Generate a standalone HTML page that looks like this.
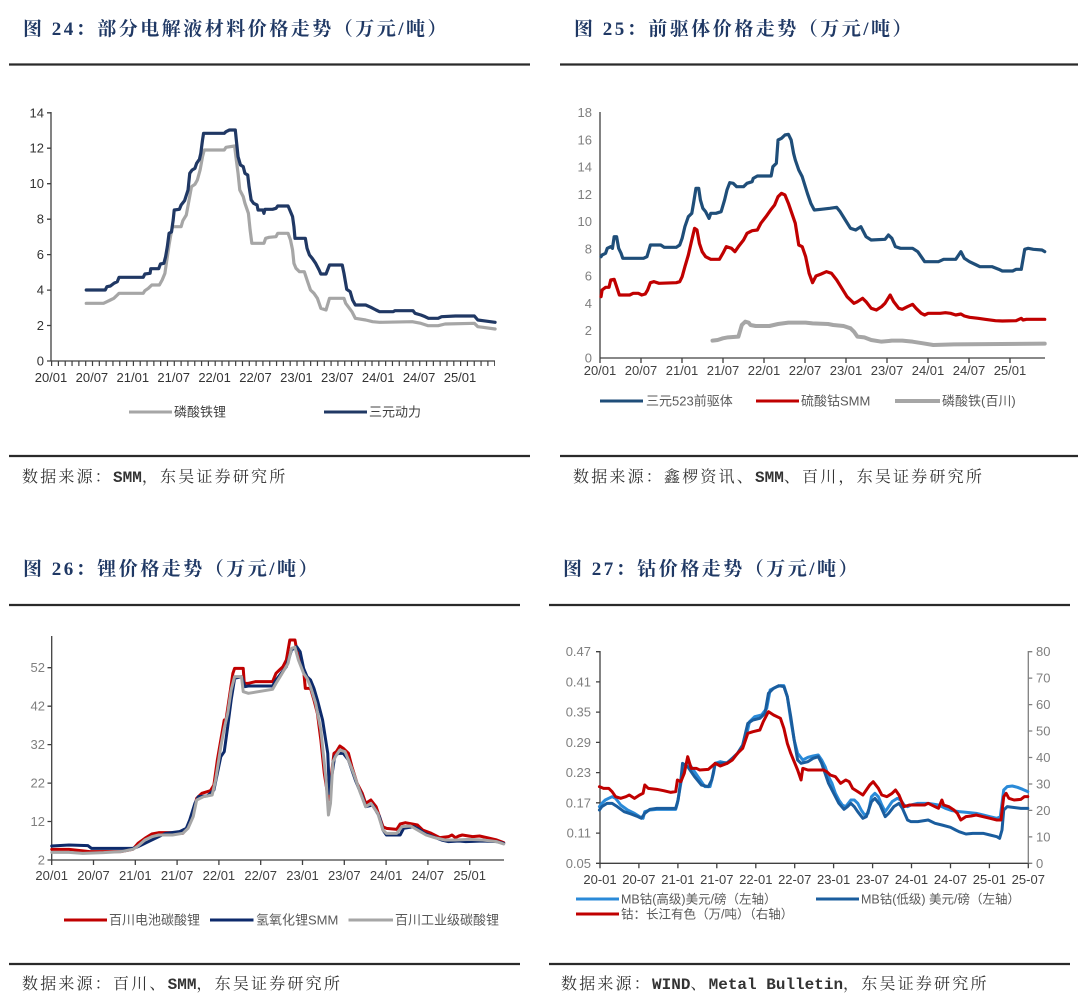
<!DOCTYPE html>
<html><head><meta charset="utf-8"><style>
html,body{margin:0;padding:0;background:#fff;}
svg{display:block;}
.t{font-family:"Liberation Serif","Noto Serif CJK SC",serif;font-weight:bold;font-size:19px;letter-spacing:2.5px;fill:#1f3864;}
.s{font-family:"Liberation Mono","Noto Serif CJK SC",serif;font-size:16px;letter-spacing:2.2px;fill:#333;}
.s tspan.l{letter-spacing:0;font-weight:bold;}
.ax{font-family:"Liberation Sans",sans-serif;font-size:13px;fill:#404040;}
.ay{font-family:"Liberation Sans",sans-serif;font-size:13px;fill:#7f7f7f;}
.lg{font-family:"Liberation Sans","Noto Sans CJK SC",sans-serif;font-size:13px;fill:#595959;}
.d{fill:none;stroke-linejoin:round;stroke-linecap:round;vector-effect:non-scaling-stroke;}
</style></head><body>
<svg width="1080" height="1007" viewBox="0 0 1080 1007" xmlns="http://www.w3.org/2000/svg">
<rect width="1080" height="1007" fill="#fff"/>

<!-- ===== Titles & rules ===== -->
<text class="t" x="23" y="35">图 24：部分电解液材料价格走势（万元/吨）</text>
<text class="t" x="574" y="35">图 25：前驱体价格走势（万元/吨）</text>
<text class="t" x="23" y="575">图 26：锂价格走势（万元/吨）</text>
<text class="t" x="563" y="575">图 27：钴价格走势（万元/吨）</text>

<g stroke="#2a2a2a" stroke-width="2.2">
<line x1="9" y1="64.5" x2="530" y2="64.5"/>
<line x1="560" y1="64.5" x2="1078" y2="64.5"/>
<line x1="9" y1="456" x2="530" y2="456"/>
<line x1="560" y1="456" x2="1078" y2="456"/>
<line x1="9" y1="605" x2="520" y2="605"/>
<line x1="549" y1="605" x2="1070" y2="605"/>
<line x1="9" y1="964" x2="520" y2="964"/>
<line x1="549" y1="964" x2="1070" y2="964"/>
</g>

<text class="s" x="22" y="482">数据来源：<tspan class="l">SMM</tspan>，东吴证券研究所</text>
<text class="s" x="573" y="482">数据来源：鑫椤资讯、<tspan class="l">SMM</tspan>、百川，东吴证券研究所</text>
<text class="s" x="22" y="989">数据来源：百川、<tspan class="l">SMM</tspan>，东吴证券研究所</text>
<text class="s" x="561" y="989">数据来源：<tspan class="l">WIND</tspan>、<tspan class="l">Metal Bulletin</tspan>，东吴证券研究所</text>

<!-- ===== Chart 24 ===== -->
<g stroke="#404040" stroke-width="1.3">
<line x1="51" y1="112" x2="51" y2="361"/>
<line x1="51" y1="361" x2="495" y2="361"/>
<path d="M47 361H51M47 325.5H51M47 290.1H51M47 254.6H51M47 219.2H51M47 183.7H51M47 148.2H51M47 112.8H51"/>
</g>
<line x1="51" y1="363.5" x2="495" y2="363.5" stroke="#404040" stroke-width="5" stroke-dasharray="1.2 5.617"/>
<g class="ax" text-anchor="end" style="fill:#333">
<text x="44" y="365.5">0</text><text x="44" y="330">2</text><text x="44" y="294.6">4</text><text x="44" y="259.1">6</text>
<text x="44" y="223.7">8</text><text x="44" y="188.2">10</text><text x="44" y="152.7">12</text><text x="44" y="117.3">14</text>
</g>
<g class="ax" text-anchor="middle" style="fill:#333">
<text x="51" y="382">20/01</text><text x="91.9" y="382">20/07</text><text x="132.8" y="382">21/01</text><text x="173.7" y="382">21/07</text>
<text x="214.6" y="382">22/01</text><text x="255.5" y="382">22/07</text><text x="296.4" y="382">23/01</text><text x="337.3" y="382">23/07</text>
<text x="378.2" y="382">24/01</text><text x="419.1" y="382">24/07</text><text x="460" y="382">25/01</text>
</g>
<g transform="scale(0.345,0.33333)">
<polyline class="d" stroke="#a6a6a6" stroke-width="3.2" points="250,910 300,910 310,905 320,900 330,895 340,885 345,880 415,880 420,872 430,865 440,855 462,855 470,840 478,820 485,770 490,735 495,705 500,680 525,680 530,662 540,645 548,600 555,560 565,553 572,540 580,510 587,470 592,450 650,450 655,442 680,438 685,480 690,520 695,570 705,590 710,610 720,640 725,690 730,730 765,730 770,715 780,712 800,710 805,700 835,700 842,720 848,750 852,790 858,805 868,815 882,815 890,840 900,870 910,880 920,895 930,925 945,930 955,895 997,895 1002,910 1020,935 1030,955 1060,960 1080,965 1100,967 1195,965 1220,970 1240,977 1270,977 1290,972 1375,970 1385,980 1400,982 1435,987"/>
<polyline class="d" stroke="#203864" stroke-width="3.2" points="250,870 305,870 310,860 320,858 330,850 340,845 345,832 415,832 420,822 435,820 437,806 460,806 465,792 475,790 480,770 485,740 490,700 497,696 502,660 505,630 520,628 525,615 535,602 545,570 550,520 557,510 565,505 570,490 578,478 582,460 587,420 590,400 650,400 655,395 665,390 682,390 686,430 690,470 697,495 705,500 710,520 718,525 722,560 728,600 735,610 745,615 748,630 762,630 765,640 768,628 790,628 800,625 805,618 835,618 840,630 848,650 852,680 855,715 885,715 890,745 897,765 905,775 915,790 925,810 930,822 945,822 955,795 992,795 997,820 1002,850 1005,868 1015,875 1022,900 1030,915 1060,915 1075,922 1090,930 1100,935 1140,935 1145,932 1197,932 1203,940 1220,945 1232,950 1242,955 1270,955 1280,950 1320,948 1375,948 1385,960 1400,962 1435,967"/>
</g>
<line x1="129" y1="412" x2="172" y2="412" stroke="#a6a6a6" stroke-width="3"/>
<text class="lg" x="174" y="416.5" style="fill:#404040">磷酸铁锂</text>
<line x1="324" y1="412" x2="367" y2="412" stroke="#203864" stroke-width="3"/>
<text class="lg" x="369" y="416.5" style="fill:#404040">三元动力</text>

<!-- ===== Chart 25 ===== -->
<g stroke="#404040" stroke-width="1.3">
<line x1="600" y1="112" x2="600" y2="358"/>
<line x1="600" y1="358" x2="1045" y2="358"/>
<path d="M600 358v5M641 358v5M682 358v5M723 358v5M764 358v5M805 358v5M846 358v5M887 358v5M928 358v5M969 358v5M1010 358v5"/>
</g>
<g class="ay" text-anchor="end">
<text x="592" y="362.5">0</text><text x="592" y="335.2">2</text><text x="592" y="308">4</text><text x="592" y="280.7">6</text>
<text x="592" y="253.5">8</text><text x="592" y="226.2">10</text><text x="592" y="198.9">12</text><text x="592" y="171.7">14</text>
<text x="592" y="144.4">16</text><text x="592" y="117.2">18</text>
</g>
<g class="ax" text-anchor="middle">
<text x="600" y="375">20/01</text><text x="641" y="375">20/07</text><text x="682" y="375">21/01</text><text x="723" y="375">21/07</text>
<text x="764" y="375">22/01</text><text x="805" y="375">22/07</text><text x="846" y="375">23/01</text><text x="887" y="375">23/07</text>
<text x="928" y="375">24/01</text><text x="969" y="375">24/07</text><text x="1010" y="375">25/01</text>
</g>
<g transform="translate(540,0) scale(0.345,0.33333)">
<polyline class="d" stroke="#a6a6a6" stroke-width="4" points="500,1022 515,1020 530,1015 545,1012 575,1010 585,975 595,965 605,968 610,975 625,978 665,978 690,972 720,968 770,968 790,970 835,972 850,975 880,978 900,985 910,995 920,1010 940,1012 960,1020 990,1025 1020,1022 1050,1022 1080,1025 1110,1030 1140,1035 1200,1033 1463,1031"/>
<polyline class="d" stroke="#c00000" stroke-width="3.2" points="177,890 180,870 190,862 200,862 205,840 215,838 222,860 230,885 260,885 270,880 285,880 295,885 305,882 312,870 320,848 330,845 345,850 395,848 405,845 412,830 420,800 430,765 440,720 448,685 455,690 462,730 470,755 480,770 495,778 520,778 530,760 540,740 555,745 565,755 575,740 590,720 600,700 615,692 630,690 640,670 655,650 670,628 680,615 690,590 700,580 710,585 720,610 730,640 740,670 750,735 760,740 770,770 780,820 790,848 800,828 815,822 830,815 845,820 860,840 875,865 890,890 910,910 920,905 935,895 945,905 960,925 975,930 990,920 1000,910 1015,885 1025,905 1040,925 1050,928 1065,920 1080,913 1090,925 1105,940 1115,945 1125,940 1160,940 1175,938 1190,940 1205,945 1220,942 1230,948 1245,952 1270,955 1290,958 1320,962 1340,963 1380,962 1395,955 1400,960 1410,958 1463,958"/>
<polyline class="d" stroke="#1f4e79" stroke-width="3.2" points="177,770 180,765 190,760 195,745 205,740 210,745 215,710 222,710 228,745 235,760 240,775 300,775 310,770 320,735 350,735 360,742 395,742 405,735 412,715 420,680 430,650 440,640 445,610 452,565 460,565 465,600 472,625 480,635 490,655 495,640 510,640 525,635 535,600 542,570 550,548 560,550 570,560 590,560 600,550 615,545 618,535 630,528 670,528 675,500 685,490 690,420 700,415 710,405 720,403 728,420 735,460 740,480 750,510 760,530 775,580 785,610 795,630 815,628 840,625 860,622 870,635 885,660 900,685 915,690 930,680 945,710 960,720 1000,718 1010,705 1020,715 1030,740 1045,745 1080,745 1095,755 1105,770 1115,785 1155,785 1170,778 1205,778 1220,755 1230,775 1245,785 1265,795 1275,800 1310,800 1330,808 1340,813 1370,813 1380,808 1395,808 1405,748 1415,745 1430,748 1455,750 1463,755"/>
</g>
<line x1="600" y1="401" x2="643" y2="401" stroke="#1f4e79" stroke-width="3"/>
<text class="lg" x="646" y="405.5">三元523前驱体</text>
<line x1="756" y1="401" x2="799" y2="401" stroke="#c00000" stroke-width="3"/>
<text class="lg" x="801" y="405.5">硫酸钴SMM</text>
<line x1="895" y1="401" x2="940" y2="401" stroke="#a6a6a6" stroke-width="4"/>
<text class="lg" x="942" y="405.5">磷酸铁(百川)</text>

<!-- ===== Chart 26 ===== -->
<g stroke="#404040" stroke-width="1.3">
<line x1="51.7" y1="636" x2="51.7" y2="860"/>
<line x1="51.7" y1="860" x2="504" y2="860"/>
<path d="M47.5 860H51.7M47.5 821.5H51.7M47.5 783.1H51.7M47.5 744.6H51.7M47.5 706.2H51.7M47.5 667.7H51.7"/>
<path d="M51.7 860v5M93.5 860v5M135.3 860v5M177.1 860v5M218.9 860v5M260.7 860v5M302.5 860v5M344.3 860v5M386.1 860v5M427.9 860v5M469.7 860v5"/>
</g>
<g class="ay" text-anchor="end">
<text x="45" y="864.5">2</text><text x="45" y="826">12</text><text x="45" y="787.6">22</text><text x="45" y="749.1">32</text>
<text x="45" y="710.7">42</text><text x="45" y="672.2">52</text>
</g>
<g class="ax" text-anchor="middle">
<text x="51.7" y="880">20/01</text><text x="93.5" y="880">20/07</text><text x="135.3" y="880">21/01</text><text x="177.1" y="880">21/07</text>
<text x="218.9" y="880">22/01</text><text x="260.7" y="880">22/07</text><text x="302.5" y="880">23/01</text><text x="344.3" y="880">23/07</text>
<text x="386.1" y="880">24/01</text><text x="427.9" y="880">24/07</text><text x="469.7" y="880">25/01</text>
</g>
<g transform="translate(0,540) scale(0.345,0.33333)">
<polyline class="d" stroke="#c00000" stroke-width="3" points="150,928 200,928 260,935 300,935 350,935 385,928 400,910 420,895 440,882 460,878 490,878 530,880 545,860 560,820 570,775 585,760 610,752 620,735 630,660 640,600 650,540 655,540 665,470 675,400 680,385 705,385 708,430 720,430 740,425 790,425 800,400 810,390 820,380 830,360 840,300 855,300 860,330 870,370 880,390 885,445 900,445 910,480 920,520 930,600 940,700 952,780 960,710 968,640 975,635 985,618 995,625 1010,640 1020,680 1035,730 1050,760 1060,790 1075,780 1090,800 1100,830 1110,860 1120,865 1150,868 1160,852 1175,848 1195,852 1210,855 1225,870 1250,880 1275,893 1300,890 1310,885 1320,893 1330,888 1340,885 1370,890 1390,888 1420,895 1440,900 1460,908"/>
<polyline class="d" stroke="#0d2a6b" stroke-width="3" points="150,918 200,915 255,917 265,925 300,925 385,925 400,920 410,915 430,905 460,890 480,880 520,875 540,865 550,840 565,790 575,770 600,768 610,760 620,750 630,700 640,650 650,635 660,560 670,480 680,415 700,410 710,440 720,438 790,438 800,420 815,400 830,380 845,330 860,320 870,335 880,385 890,410 900,420 910,445 920,480 935,540 950,640 955,760 960,720 970,650 980,640 995,640 1010,660 1030,720 1050,770 1060,800 1080,795 1100,830 1110,870 1120,885 1160,885 1170,865 1200,860 1215,868 1230,880 1250,888 1280,900 1300,905 1330,903 1350,905 1400,903 1440,905 1460,910"/>
<polyline class="d" stroke="#a6a6a6" stroke-width="3" points="150,937 200,937 240,940 300,938 350,935 385,928 400,918 420,900 440,890 460,885 500,885 530,880 545,865 560,830 570,780 590,770 615,765 625,720 640,620 650,565 660,520 670,450 680,410 700,410 705,455 720,460 790,448 800,430 815,405 835,370 845,325 855,322 865,360 880,400 890,415 900,440 915,490 930,570 945,720 952,825 958,790 965,665 975,645 985,630 1000,635 1010,660 1025,700 1045,760 1060,800 1075,790 1095,820 1110,870 1120,880 1150,880 1165,860 1190,858 1210,870 1235,885 1260,893 1290,900 1320,900 1360,898 1400,900 1440,905 1460,912"/>
</g>
<line x1="64" y1="920" x2="107" y2="920" stroke="#c00000" stroke-width="3"/>
<text class="lg" x="109" y="924.5">百川电池碳酸锂</text>
<line x1="210" y1="920" x2="253.5" y2="920" stroke="#0d2a6b" stroke-width="3"/>
<text class="lg" x="256" y="924.5">氢氧化锂SMM</text>
<line x1="348.5" y1="920" x2="393" y2="920" stroke="#a6a6a6" stroke-width="3"/>
<text class="lg" x="395" y="924.5">百川工业级碳酸锂</text>

<!-- ===== Chart 27 ===== -->
<g stroke="#404040" stroke-width="1.3">
<line x1="600" y1="651" x2="600" y2="863.3"/>
<line x1="600" y1="863.3" x2="1028.3" y2="863.3"/>
<line x1="1028.3" y1="651" x2="1028.3" y2="863.3" stroke="#7f7f7f"/>
<path d="M596 863.3H600M596 833.1H600M596 802.8H600M596 772.6H600M596 742.4H600M596 712.1H600M596 681.9H600M596 651.7H600"/>
<path stroke="#7f7f7f" d="M1028.3 863.3h4M1028.3 836.9h4M1028.3 810.4h4M1028.3 784h4M1028.3 757.5h4M1028.3 731h4M1028.3 704.6h4M1028.3 678.1h4M1028.3 651.7h4"/>
<path d="M600 863.3v5M638.9 863.3v5M677.9 863.3v5M716.8 863.3v5M755.8 863.3v5M794.7 863.3v5M833.6 863.3v5M872.6 863.3v5M911.5 863.3v5M950.5 863.3v5M989.4 863.3v5M1028.3 863.3v5"/>
</g>
<g class="ay" text-anchor="end">
<text x="591" y="867.8">0.05</text><text x="591" y="837.6">0.11</text><text x="591" y="807.3">0.17</text><text x="591" y="777.1">0.23</text>
<text x="591" y="746.9">0.29</text><text x="591" y="716.6">0.35</text><text x="591" y="686.4">0.41</text><text x="591" y="656.2">0.47</text>
</g>
<g class="ay">
<text x="1036" y="867.8">0</text><text x="1036" y="841.4">10</text><text x="1036" y="814.9">20</text><text x="1036" y="788.5">30</text>
<text x="1036" y="762">40</text><text x="1036" y="735.5">50</text><text x="1036" y="709.1">60</text><text x="1036" y="682.6">70</text><text x="1036" y="656.2">80</text>
</g>
<g class="ax" text-anchor="middle">
<text x="600" y="884">20-01</text><text x="638.9" y="884">20-07</text><text x="677.9" y="884">21-01</text><text x="716.8" y="884">21-07</text>
<text x="755.8" y="884">22-01</text><text x="794.7" y="884">22-07</text><text x="833.6" y="884">23-01</text><text x="872.6" y="884">23-07</text>
<text x="911.5" y="884">24-01</text><text x="950.5" y="884">24-07</text><text x="989.4" y="884">25-01</text><text x="1028.3" y="884">25-07</text>
</g>
<g transform="translate(540,540) scale(0.3435,0.33333)">
<polyline class="d" stroke="#2a8ad8" stroke-width="3" points="173,800 180,790 190,780 200,775 210,770 220,775 235,795 255,810 275,820 290,830 300,835 305,815 320,810 340,808 395,808 400,790 410,730 420,680 430,665 440,680 460,710 480,740 495,740 505,700 510,670 525,665 545,670 560,655 575,640 590,620 600,590 610,545 625,530 645,525 660,505 670,450 690,440 700,437 710,437 720,470 730,540 740,600 750,640 765,660 780,652 795,648 810,645 820,660 830,680 840,710 850,730 860,760 870,780 880,795 890,800 905,780 915,780 925,790 935,810 945,825 955,820 965,770 975,760 985,770 995,795 1005,815 1015,800 1025,785 1040,775 1050,780 1060,795 1070,800 1080,795 1100,790 1130,790 1160,795 1180,805 1200,812 1220,815 1250,818 1270,820 1290,825 1310,830 1330,835 1340,830 1350,750 1360,740 1375,738 1390,742 1405,748 1420,755"/>
<polyline class="d" stroke="#1a5d9e" stroke-width="3" points="173,810 180,800 195,790 210,790 225,800 245,815 265,822 285,830 295,835 305,820 320,808 340,805 395,805 402,780 410,720 415,670 430,680 450,710 470,735 490,740 500,720 510,670 525,670 545,668 560,655 575,640 590,615 605,550 620,540 640,535 655,520 665,460 680,445 695,437 710,440 720,470 730,530 740,600 750,660 760,670 780,665 795,655 810,650 820,670 830,700 840,730 855,760 870,790 885,808 895,800 905,790 915,800 925,815 940,835 950,830 965,785 975,775 990,795 1005,830 1015,820 1030,800 1045,790 1055,805 1070,840 1080,845 1100,845 1130,840 1150,850 1170,855 1195,862 1210,870 1220,875 1240,882 1260,880 1290,880 1310,885 1330,890 1338,895 1345,870 1350,810 1360,800 1400,805 1420,805"/>
<polyline class="d" stroke="#c00000" stroke-width="3" points="173,740 185,745 200,745 210,755 220,770 235,775 250,770 260,765 275,775 290,765 300,760 305,735 315,745 340,748 360,752 380,757 395,755 400,720 410,725 420,700 430,650 440,685 455,685 465,690 490,688 510,670 525,678 545,670 560,660 575,640 590,625 605,580 620,575 640,570 650,545 665,515 680,525 700,535 710,565 720,610 730,640 740,665 750,690 760,720 765,685 780,690 800,690 815,690 825,690 835,695 845,705 860,710 875,730 890,720 900,725 910,745 925,755 940,765 950,750 960,735 970,725 985,745 995,765 1010,770 1025,760 1035,750 1045,765 1055,790 1060,800 1075,795 1100,795 1120,795 1130,790 1150,800 1160,805 1170,780 1175,795 1190,800 1205,810 1215,820 1225,840 1240,830 1255,828 1270,825 1290,830 1310,835 1330,840 1342,840 1350,770 1357,760 1365,775 1380,780 1400,778 1410,770 1420,770"/>
</g>
<g class="lg" style="font-size:12.5px">
<line x1="576" y1="899" x2="619" y2="899" stroke="#2a8ad8" stroke-width="3"/>
<text x="621" y="903.5">MB钴(高级)美元/磅（左轴）</text>
<line x1="816" y1="899" x2="859" y2="899" stroke="#1a5d9e" stroke-width="3"/>
<text x="861" y="903.5">MB钴(低级) 美元/磅（左轴）</text>
<line x1="576" y1="914" x2="619" y2="914" stroke="#c00000" stroke-width="3"/>
<text x="621" y="918.5">钴：长江有色（万/吨）（右轴）</text>
</g>
</svg>
</body></html>
